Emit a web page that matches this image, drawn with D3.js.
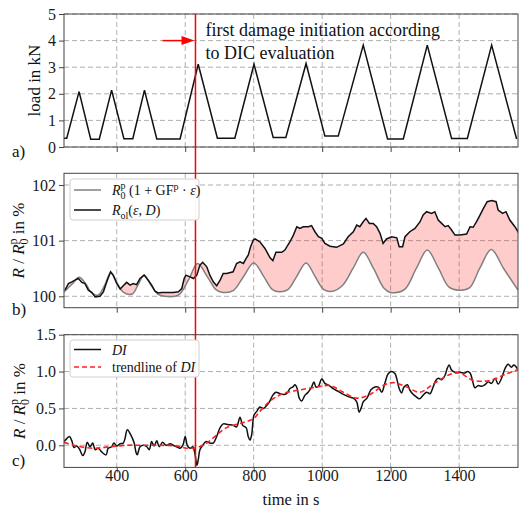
<!DOCTYPE html>
<html>
<head>
<meta charset="utf-8">
<script src="https://cdn.jsdelivr.net/npm/d3@7"></script>
<style>
  body { margin: 0; background: #fff; }
  svg { display: block; font-family: "Liberation Serif", "Times New Roman", serif; }
</style>
</head>
<body>
<div id="chart"></div>
<script>
// ---- data ----
const xTicks = [400, 600, 800, 1000, 1200, 1400];
const loadTicks = [0, 1, 2, 3, 4, 5];
const ratioTicks = [100, 101, 102];
const diTicks = [0.0, 0.5, 1.0, 1.5];
const damageTime = 630;

// a) load signal
const loadTime = [246, 254, 290, 324, 349, 385, 421, 447, 481, 517, 585, 638, 694, 745, 801, 857, 894, 953, 1008, 1047, 1120, 1191, 1237, 1307, 1378, 1424, 1495, 1568];
const loadKN   = [0.33, 0.33, 2.08, 0.29, 0.29, 2.14, 0.31, 0.31, 2.14, 0.30, 0.30, 3.11, 0.33, 0.33, 3.11, 0.36, 0.36, 3.14, 0.41, 0.41, 3.83, 0.30, 0.30, 3.83, 0.32, 0.32, 3.83, 0.30];

// b) model resistance R0p(1+GFp*eps)
const modelTime = [246, 270, 290, 310, 325, 345, 365, 382, 400, 420, 445, 462, 480, 500, 520, 540, 580, 610, 636, 665, 690, 710, 740, 770, 800, 830, 855, 875, 900, 925, 953, 980, 1005, 1030, 1060, 1090, 1120, 1150, 1180, 1200, 1240, 1275, 1307, 1340, 1370, 1400, 1430, 1460, 1494, 1530, 1572];
const modelR   = [100.08, 100.22, 100.34, 100.22, 100.07, 100.02, 100.20, 100.42, 100.25, 100.07, 100.04, 100.20, 100.38, 100.20, 100.04, 100.00, 100.02, 100.30, 100.59, 100.35, 100.12, 100.07, 100.10, 100.35, 100.60, 100.35, 100.12, 100.08, 100.12, 100.35, 100.60, 100.35, 100.12, 100.09, 100.20, 100.50, 100.79, 100.50, 100.15, 100.07, 100.12, 100.50, 100.83, 100.50, 100.17, 100.11, 100.15, 100.50, 100.84, 100.50, 100.11];

// b) measured resistance R_ol(eps, D)
const measTime = [249, 259, 269, 278, 288, 298, 307, 317, 327, 337, 351, 361, 371, 382, 390, 400, 410, 419, 429, 439, 448, 458, 468, 480, 492, 502, 512, 521, 531, 546, 565, 580, 590, 597, 602, 614, 624, 634, 643, 651, 663, 672, 682, 692, 702, 711, 721, 740, 750, 760, 770, 778, 784, 791, 799, 804, 818, 833, 848, 856, 865, 882, 891, 906, 916, 926, 935, 945, 960, 969, 979, 989, 999, 1008, 1023, 1042, 1062, 1076, 1091, 1101, 1110, 1120, 1128, 1138, 1149, 1159, 1169, 1178, 1188, 1203, 1218, 1225, 1235, 1242, 1256, 1271, 1286, 1295, 1305, 1320, 1329, 1339, 1349, 1359, 1368, 1378, 1388, 1402, 1422, 1432, 1441, 1451, 1461, 1471, 1482, 1495, 1508, 1514, 1527, 1537, 1548, 1563, 1575];
const measR    = [100.11, 100.23, 100.26, 100.29, 100.32, 100.25, 100.23, 100.11, 100.07, 99.99, 100.00, 100.08, 100.26, 100.44, 100.38, 100.23, 100.13, 100.19, 100.25, 100.20, 100.23, 100.21, 100.32, 100.38, 100.29, 100.20, 100.09, 100.06, 100.07, 100.07, 100.07, 100.08, 100.14, 100.32, 100.38, 100.35, 100.32, 100.38, 100.56, 100.61, 100.53, 100.38, 100.26, 100.19, 100.29, 100.41, 100.41, 100.44, 100.59, 100.62, 100.59, 100.68, 100.74, 100.89, 101.01, 101.03, 100.98, 100.86, 100.69, 100.64, 100.79, 100.79, 100.83, 100.98, 101.10, 101.25, 101.22, 101.25, 101.25, 101.27, 101.16, 101.07, 101.04, 100.95, 100.90, 100.88, 100.94, 101.07, 101.16, 101.28, 101.25, 101.34, 101.40, 101.31, 101.31, 101.25, 101.13, 100.95, 101.03, 101.07, 101.05, 100.89, 100.89, 101.07, 101.16, 101.22, 101.34, 101.46, 101.52, 101.49, 101.52, 101.37, 101.31, 101.25, 101.27, 101.19, 101.10, 101.10, 101.12, 101.25, 101.24, 101.34, 101.46, 101.58, 101.70, 101.72, 101.70, 101.55, 101.49, 101.52, 101.37, 101.25, 101.13];

// c) damage indicator DI and its trendline
const diTime = [246, 254, 262, 269, 275, 283, 291, 301, 307, 314, 322, 330, 337, 346, 356, 369, 375, 385, 392, 400, 410, 419, 424, 431, 441, 451, 456, 460, 468, 478, 488, 495, 502, 509, 517, 524, 534, 544, 556, 565, 575, 585, 593, 600, 606, 614, 622, 629, 634, 638, 643, 651, 661, 672, 682, 692, 702, 711, 726, 740, 750, 760, 768, 778, 784, 789, 794, 801, 809, 818, 828, 838, 846, 856, 865, 877, 887, 896, 906, 914, 921, 927, 933, 940, 950, 959, 969, 976, 982, 989, 999, 1008, 1021, 1032, 1047, 1062, 1076, 1091, 1101, 1108, 1115, 1120, 1131, 1142, 1154, 1164, 1174, 1183, 1193, 1203, 1213, 1219, 1225, 1232, 1239, 1249, 1256, 1264, 1274, 1284, 1295, 1305, 1315, 1324, 1332, 1339, 1349, 1359, 1365, 1371, 1378, 1388, 1402, 1417, 1424, 1432, 1440, 1446, 1456, 1466, 1475, 1485, 1495, 1505, 1514, 1524, 1534, 1543, 1553, 1560, 1570];
const diVal  = [0.05, 0.09, 0.12, 0.06, -0.03, -0.01, -0.05, -0.14, -0.09, 0.04, -0.02, 0.03, -0.06, -0.04, -0.09, -0.13, -0.04, -0.02, 0.03, -0.01, 0.02, 0.03, 0.09, 0.21, 0.14, 0.03, -0.09, -0.13, -0.02, 0.00, -0.02, -0.06, 0.05, -0.01, 0.06, -0.02, 0.04, 0.00, 0.02, 0.00, -0.02, -0.04, 0.00, 0.12, 0.00, -0.04, -0.02, -0.13, -0.27, -0.20, -0.06, 0.00, 0.05, 0.03, 0.03, 0.12, 0.24, 0.29, 0.28, 0.27, 0.25, 0.38, 0.27, 0.24, 0.12, 0.07, 0.14, 0.41, 0.46, 0.52, 0.50, 0.54, 0.59, 0.68, 0.72, 0.70, 0.69, 0.70, 0.77, 0.79, 0.82, 0.77, 0.64, 0.60, 0.68, 0.72, 0.79, 0.86, 0.79, 0.80, 0.90, 0.84, 0.81, 0.77, 0.73, 0.69, 0.66, 0.64, 0.59, 0.45, 0.52, 0.59, 0.64, 0.75, 0.79, 0.79, 0.72, 0.84, 0.97, 1.00, 0.97, 0.88, 0.77, 0.71, 0.79, 0.82, 0.75, 0.70, 0.66, 0.63, 0.68, 0.72, 0.70, 0.79, 0.88, 0.91, 0.89, 0.95, 1.04, 1.09, 1.02, 0.99, 0.99, 0.98, 1.00, 0.98, 0.86, 0.78, 0.81, 0.80, 0.82, 0.86, 0.84, 0.91, 0.83, 0.91, 1.04, 1.10, 1.06, 1.09, 1.04];
const trendTime = [246, 283, 332, 380, 429, 478, 526, 575, 604, 634, 663, 692, 721, 770, 799, 818, 848, 885, 935, 984, 1023, 1062, 1101, 1140, 1178, 1208, 1247, 1286, 1324, 1373, 1402, 1441, 1490, 1539, 1575];
const trendVal  = [0.04, -0.01, -0.04, -0.02, 0.00, 0.00, 0.00, -0.01, -0.04, -0.03, 0.03, 0.14, 0.24, 0.31, 0.36, 0.46, 0.60, 0.70, 0.75, 0.79, 0.81, 0.72, 0.64, 0.69, 0.81, 0.85, 0.79, 0.72, 0.83, 0.96, 0.98, 0.88, 0.88, 0.97, 1.03];

// ---- layout ----
const W = 519, H = 513;
const left = 64, right = 518;
const serif = "'Liberation Serif', 'Times New Roman', serif";
const zip = (xs, ys) => xs.map((t, i) => [t, ys[i]]);

const svg = d3.select("#chart").append("svg")
  .attr("width", W).attr("height", H);

const x = d3.scaleLinear().domain([246, 1572]).range([left, right]);

const yA = d3.scaleLinear().domain([0, 5]).range([147, 14]);
const yB = d3.scaleLinear().domain([99.795, 102.21]).range([307.7, 173.3]);
const yC = d3.scaleLinear().domain([-0.3, 1.5]).range([467.4, 334.7]);

// write text made of plain / italic / raised / lowered pieces
function richText(sel, parts, size) {
  let shift = 0;
  parts.forEach(p => {
    const s = p.shift || 0;
    const ts = sel.append("tspan")
      .attr("dy", s - shift)
      .style("font-size", (p.size || size) + "px")
      .text(p.t);
    if (p.it) ts.style("font-style", "italic");
    if (p.dx) ts.attr("dx", p.dx);
    shift = s;
  });
}

function panel(name, y, yTicks, fmt, showX) {
  const [y0, y1] = y.range();
  const g = svg.append("g").attr("class", "panel-" + name);

  g.append("clipPath").attr("id", "clip-" + name)
    .append("rect").attr("x", left).attr("y", y1).attr("width", right - left).attr("height", y0 - y1);

  // grid
  g.append("g").selectAll("line.vg").data(xTicks).enter().append("line")
    .attr("x1", d => x(d)).attr("x2", d => x(d)).attr("y1", y1).attr("y2", y0)
    .attr("stroke", "#b0b0b0").attr("stroke-width", 1).attr("stroke-dasharray", "5,3");
  g.append("g").selectAll("line.hg").data(yTicks).enter().append("line")
    .attr("x1", left).attr("x2", right).attr("y1", d => y(d)).attr("y2", d => y(d))
    .attr("stroke", "#b0b0b0").attr("stroke-width", 1).attr("stroke-dasharray", "5,3");

  // axes
  const ax = g.append("g").attr("transform", `translate(${left},0)`)
    .call(d3.axisLeft(y).tickValues(yTicks).tickFormat(fmt).tickSize(5).tickPadding(3));
  const bx = g.append("g").attr("transform", `translate(0,${y0})`)
    .call(d3.axisBottom(x).tickValues(xTicks).tickSize(5).tickPadding(3)
      .tickFormat(showX ? d3.format("d") : ""));
  [ax, bx].forEach(a => {
    a.attr("font-family", null).attr("font-size", null);
    a.select(".domain").remove();
    a.selectAll("line").attr("stroke", "#444");
    a.selectAll("text").attr("fill", "#1a1a1a")
      .style("font-size", "16px").style("font-family", serif);
  });
  bx.selectAll("text").attr("y", 13.5).attr("dy", 0);

  const plot = g.append("g").attr("clip-path", `url(#clip-${name})`);

  g.append("rect").attr("class", "frame")
    .attr("x", left).attr("y", y1).attr("width", right - left).attr("height", y0 - y1)
    .attr("fill", "none").attr("stroke", "#444").attr("stroke-width", 1);

  return { g, plot };
}

// ---- panel a ----
const pa = panel("a", yA, loadTicks, d3.format("d"), false);
pa.plot.append("path")
  .datum(zip(loadTime, loadKN))
  .attr("d", d3.line().x(d => x(d[0])).y(d => yA(d[1])))
  .attr("fill", "none").attr("stroke", "#111").attr("stroke-width", 1.5);

// ---- panel b ----
const pb = panel("b", yB, ratioTicks, d3.format("d"), false);
const modelPts = zip(modelTime, modelR);
const measPts = zip(measTime, measR);
const smooth = d3.line().x(d => x(d[0])).y(d => yB(d[1])).curve(d3.curveCatmullRom.alpha(0.5));
const rough = d3.line().x(d => x(d[0])).y(d => yB(d[1]));
const back = smooth(modelPts.slice().reverse()).replace(/^M/, "L");
pb.plot.append("path")
  .attr("d", rough(measPts) + back + "Z")
  .attr("fill", "rgba(255,0,0,0.2)").attr("stroke", "none");
pb.plot.append("path").attr("d", smooth(modelPts))
  .attr("fill", "none").attr("stroke", "#808080").attr("stroke-width", 1.5);
pb.plot.append("path").attr("d", rough(measPts))
  .attr("fill", "none").attr("stroke", "#111").attr("stroke-width", 1.5);

// ---- panel c ----
const pc = panel("c", yC, diTicks, d3.format(".1f"), true);
pc.plot.append("path").datum(zip(diTime, diVal))
  .attr("d", d3.line().x(d => x(d[0])).y(d => yC(d[1])).curve(d3.curveCatmullRom.alpha(0.5)))
  .attr("fill", "none").attr("stroke", "#111").attr("stroke-width", 1.5);
pc.plot.append("path").datum(zip(trendTime, trendVal))
  .attr("d", d3.line().x(d => x(d[0])).y(d => yC(d[1])).curve(d3.curveCatmullRom.alpha(0.5)))
  .attr("fill", "none").attr("stroke", "#ff2020").attr("stroke-width", 1.6).attr("stroke-dasharray", "5,3");

// ---- damage marker ----
const xd = x(damageTime);
svg.append("line")
  .attr("x1", xd).attr("x2", xd).attr("y1", yA(5)).attr("y2", yC(-0.3))
  .attr("stroke", "#ff0000").attr("stroke-width", 1.5);

svg.append("line")
  .attr("x1", xd - 33).attr("x2", xd - 12).attr("y1", yA(4)).attr("y2", yA(4))
  .attr("stroke", "#ff0000").attr("stroke-width", 1.5);
svg.append("path")
  .attr("d", `M${xd - 1},${yA(4)} L${xd - 14},${yA(4) - 4.5} L${xd - 14},${yA(4) + 4.5} Z`)
  .attr("fill", "#ff0000");

const note = svg.append("text").style("font-size", "18px").attr("fill", "#111");
note.append("tspan").attr("x", xd + 10).attr("y", 36).text("first damage initiation according");
note.append("tspan").attr("x", xd + 10).attr("y", 59).text("to DIC evaluation");

// ---- legends ----
function legend(top, height, rows) {
  const g = svg.append("g");
  g.append("rect").attr("x", 70).attr("y", top).attr("width", 129).attr("height", height)
    .attr("rx", 3).attr("fill", "#fff").attr("fill-opacity", 0.96)
    .attr("stroke", "#d0d0d0").attr("stroke-width", 1);
  rows.forEach(r => {
    g.append("line").attr("x1", 74).attr("x2", 101).attr("y1", r.y).attr("y2", r.y)
      .attr("stroke", r.color).attr("stroke-width", 1.5)
      .attr("stroke-dasharray", r.dash || null);
    const t = g.append("text").attr("x", 112).attr("y", r.y + 5).attr("fill", "#111");
    richText(t, r.parts, 14);
  });
}

legend(179, 41, [
  { y: 190, color: "#808080", parts: [
    { t: "R", it: true }, { t: "p", size: 10, shift: -6 }, { t: "0", size: 10, shift: 4, dx: -5 },
    { t: " (1 + GF" }, { t: "p", size: 10, shift: -5 }, { t: " · " }, { t: "ε", it: true }, { t: ")" }] },
  { y: 210, color: "#111", parts: [
    { t: "R", it: true }, { t: "ol", size: 10, shift: 4 }, { t: "(" }, { t: "ε", it: true },
    { t: ", " }, { t: "D", it: true }, { t: ")" }] }
]);

legend(340, 37, [
  { y: 349.5, color: "#111", parts: [{ t: "DI", it: true }] },
  { y: 367, color: "#ff2020", dash: "5,3", parts: [{ t: "trendline of " }, { t: "DI", it: true }] }
]);

// ---- axis titles and panel letters ----
svg.append("text").attr("transform", `translate(40,${(yA(0) + yA(5)) / 2}) rotate(-90)`)
  .attr("text-anchor", "middle").style("font-size", "17px").attr("fill", "#111")
  .text("load in kN");

const ratioLabel = [
  { t: "R", it: true }, { t: " / " }, { t: "R", it: true },
  { t: "p", size: 12, shift: -7 }, { t: "0", size: 12, shift: 4, dx: -6 }, { t: " in %" }];
[[yB, 24], [yC, 25]].forEach(([y, bx]) => {
  const [a, b] = y.range();
  const t = svg.append("text").attr("transform", `translate(${bx},${(a + b) / 2}) rotate(-90)`)
    .attr("text-anchor", "middle").attr("fill", "#111");
  richText(t, ratioLabel, 17);
});

svg.append("text").attr("x", (left + right) / 2).attr("y", 505)
  .attr("text-anchor", "middle").style("font-size", "16.5px").attr("fill", "#111")
  .text("time in s");

[["a)", 157], ["b)", 315], ["c)", 466]].forEach(([s, yy]) => {
  svg.append("text").attr("x", 12).attr("y", yy).style("font-size", "17px").attr("fill", "#111").text(s);
});
</script>
</body>
</html>
